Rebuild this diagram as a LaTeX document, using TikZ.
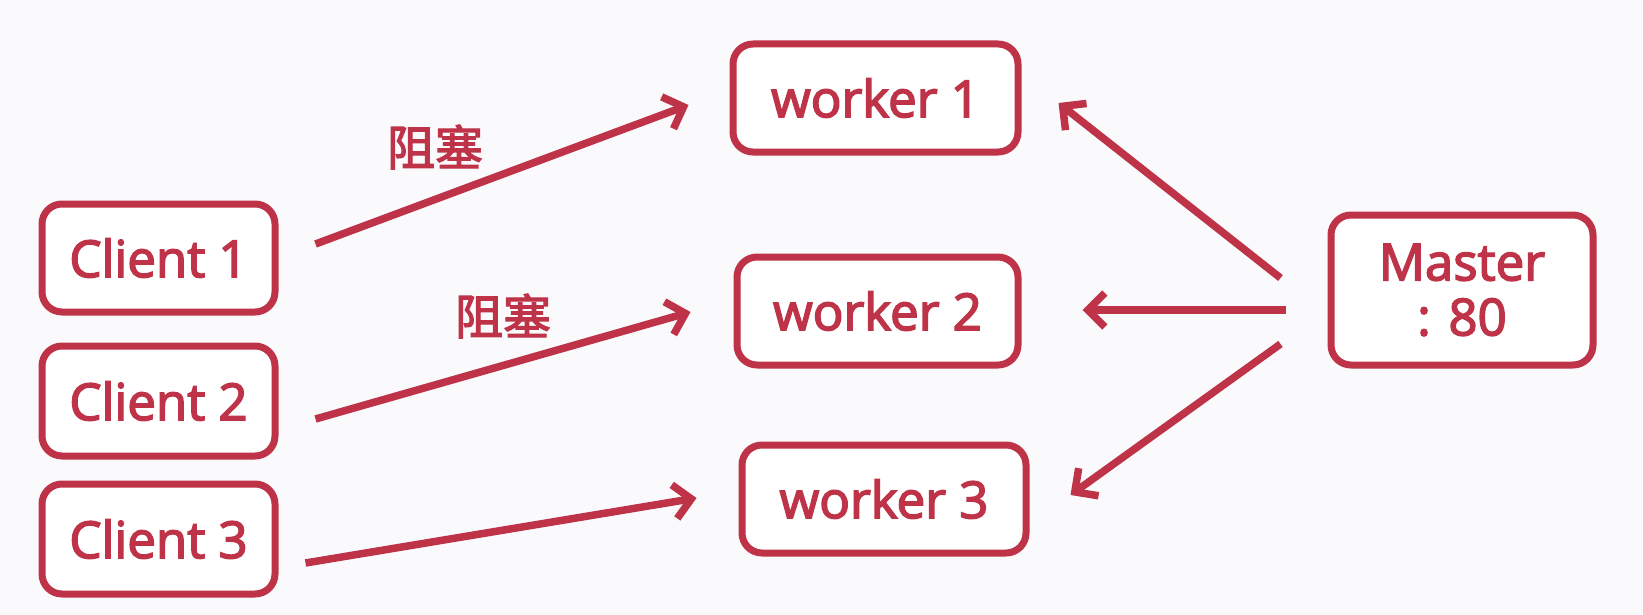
\documentclass[tikz,border=0pt]{standalone}
\usepackage{fontspec}
\setmainfont{Open Sans}[FakeBold=3]
\newfontfamily\cjk{Noto Sans CJK SC}[FakeBold=2.5]
\usetikzlibrary{arrows.meta}
\definecolor{cred}{RGB}{190,51,71}
\definecolor{bgc}{RGB}{250,250,252}
\tikzset{
  box/.style={draw=cred, line width=7pt, rounded corners=20pt, fill=white,
    text=cred, font=\fontsize{51}{55}\selectfont, align=center, inner sep=0pt},
  arr/.style={draw=cred, line width=7.5pt, -{Straight Barb[length=17pt,width=34pt]}},
  lbl/.style={text=cred, font=\cjk\fontsize{48}{52}\selectfont, inner sep=0pt}
}
\begin{document}
\begin{tikzpicture}[x=1pt,y=-1pt]
\fill[bgc] (0,0) rectangle (1643,615);
\useasboundingbox (0,0) rectangle (1643,615);
\node[box, minimum width=233pt, minimum height=108pt] (c1) at (158.5,258) {Client 1};
\node[box, minimum width=233pt, minimum height=110pt] (c2) at (158.5,401) {Client 2};
\node[box, minimum width=233pt, minimum height=110pt] (c3) at (158.5,539) {Client 3};
\node[box, minimum width=285pt, minimum height=108pt] (w1) at (875.5,98) {worker 1};
\node[box, minimum width=281pt, minimum height=108pt] (w2) at (877.5,311) {worker 2};
\node[box, minimum width=284pt, minimum height=108pt] (w3) at (884,499) {worker 3};
\node[box, minimum width=262pt, minimum height=150pt] (m) at (1462,290) {Master\\: 80};
\node[lbl] (l1) at (435,147) {阻塞};
\node[lbl] (l2) at (503,316) {阻塞};
\draw[arr] ([xshift=37pt,yshift=14pt]c1.east) -- ([xshift=-41pt,yshift=-7pt]w1.west);
\draw[arr] ([xshift=37pt,yshift=-18pt]c2.east) -- ([xshift=-43pt,yshift=-1pt]w2.west);
\draw[arr] ([xshift=27pt,yshift=-24pt]c3.east) -- ([xshift=-42pt,yshift=1pt]w3.west);
\draw[arr] ([xshift=-47pt,yshift=12pt]m.west) -- ([xshift=37pt,yshift=-5pt]w1.east);
\draw[arr] ([xshift=-42pt,yshift=-20pt]m.west) -- ([xshift=61pt,yshift=1pt]w2.east);
\draw[arr] ([xshift=-47pt,yshift=-54pt]m.west) -- ([xshift=41pt,yshift=4pt]w3.east);
\end{tikzpicture}
\end{document}
